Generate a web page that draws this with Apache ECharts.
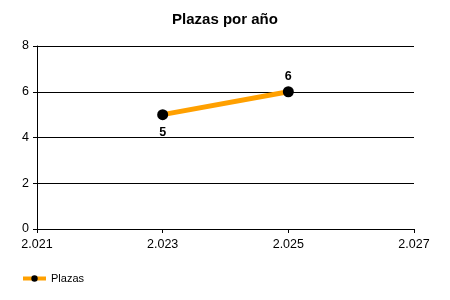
<!DOCTYPE html>
<html><head><meta charset="utf-8">
<script src="https://cdn.jsdelivr.net/npm/echarts@6/dist/echarts.min.js"></script>
<style>html,body{margin:0;padding:0;background:#fff}#c{width:450px;height:300px}</style>
</head><body><div id="c"></div>
<script>
const years = [2023, 2025];
const plazas = [5, 6];
const labelPos = ['bottom', 'top'];
const labelDist = [6, 3];
const chart = echarts.init(document.getElementById('c'), null, {renderer: 'canvas'});
const font = 'Liberation Sans, Arial, sans-serif';
chart.setOption({
  animation: false,
  backgroundColor: '#fff',
  title: {text: 'Plazas por año', left: 'center', top: 7,
    textStyle: {fontFamily: font, fontSize: 15, fontWeight: 'bold', color: '#000'}},
  grid: {left: 37, right: 36, top: 46, bottom: 71, containLabel: false},
  legend: {left: 16, top: 268, itemWidth: 23, itemHeight: 8, itemGap: 5,
    textStyle: {fontFamily: font, fontSize: 11, color: '#000'},
    lineStyle: {width: 4},
    data: ['Plazas']},
  xAxis: {type: 'value', min: 2021, max: 2027, interval: 2,
    axisLine: {lineStyle: {color: '#000', width: 1}},
    axisTick: {show: true, length: 4, lineStyle: {color: '#000'}},
    splitLine: {show: false},
    axisLabel: {fontFamily: font, fontSize: 12.5, color: '#000', margin: 9,
      formatter: v => String(v).replace(/(\d)(\d{3})$/, '$1.$2')}},
  yAxis: {type: 'value', min: 0, max: 8, interval: 2,
    axisLine: {show: true, lineStyle: {color: '#000', width: 1}},
    axisTick: {show: true, length: 4, lineStyle: {color: '#000'}},
    splitLine: {show: true, lineStyle: {color: '#000', width: 1}},
    axisLabel: {fontFamily: font, fontSize: 12.5, color: '#000', margin: 8}},
  series: [{
    name: 'Plazas', type: 'line',
    data: years.map((y, i) => ({value: [y, plazas[i]], label: {position: labelPos[i], distance: labelDist[i]}})),
    symbol: 'circle', symbolSize: 11,
    itemStyle: {color: '#000'},
    lineStyle: {color: '#FFA000', width: 5},
    label: {show: true, fontFamily: font, fontSize: 12.5, fontWeight: 'bold', color: '#000',
      formatter: p => p.value[1]}
  }]
});
</script></body></html>
